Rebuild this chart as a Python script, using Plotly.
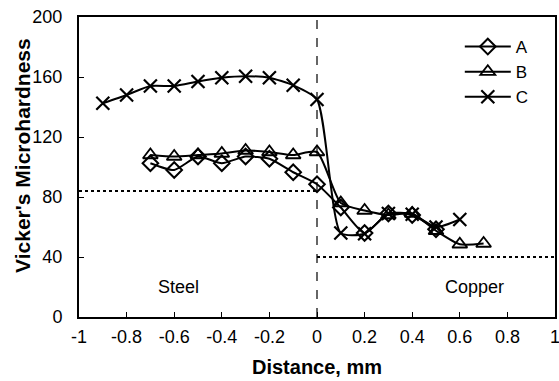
import plotly.graph_objects as go

x_a = [-0.7, -0.6, -0.5, -0.4, -0.3, -0.2, -0.1, 0.0, 0.1, 0.2, 0.3, 0.4, 0.5]
y_a = [102.5, 98, 107, 102.5, 107, 105.5, 96.5, 88.5, 73, 56, 69, 68, 58.5]

x_b = [-0.7, -0.6, -0.5, -0.4, -0.3, -0.2, -0.1, 0.0, 0.1, 0.2, 0.3, 0.4, 0.5, 0.6, 0.7]
y_b = [108, 107, 108, 109, 111, 110, 108, 110, 76, 71, 68, 69, 57.5, 48.5, 49]

x_c = [-0.9, -0.8, -0.7, -0.6, -0.5, -0.4, -0.3, -0.2, -0.1, 0.0, 0.1, 0.2, 0.3, 0.4, 0.5, 0.6]
y_c = [142.5, 148, 154, 154, 157, 159.5, 160.5, 159.5, 154.5, 145, 56, 55.5, 69, 68.5, 60, 65]

steel_level = 84
copper_level = 40
x_ticks = [-1, -0.8, -0.6, -0.4, -0.2, 0, 0.2, 0.4, 0.6, 0.8, 1]
x_tick_text = ["-1", "-0.8", "-0.6", "-0.4", "-0.2", "0", "0.2", "0.4", "0.6", "0.8", "1"]
y_ticks = [0, 40, 80, 120, 160, 200]

FONT = "Liberation Sans, Arial, sans-serif"

fig = go.Figure()

# reference lines
fig.add_trace(go.Scatter(x=[-1, 0], y=[steel_level, steel_level], mode="lines",
                         line=dict(color="black", width=2, dash="dot"), showlegend=False, hoverinfo="skip"))
fig.add_trace(go.Scatter(x=[0, 1], y=[copper_level, copper_level], mode="lines",
                         line=dict(color="black", width=2, dash="dot"), showlegend=False, hoverinfo="skip"))
fig.add_trace(go.Scatter(x=[0, 0], y=[0, 200], mode="lines",
                         line=dict(color="black", width=1.2, dash="dash"), showlegend=False, hoverinfo="skip"))

fig.add_trace(go.Scatter(x=x_a, y=y_a, name="A", mode="lines+markers",
                         line=dict(color="black", width=2, shape="spline", smoothing=0.6),
                         marker=dict(symbol="diamond-open", size=12, color="black", line=dict(width=2))))
fig.add_trace(go.Scatter(x=x_b, y=y_b, name="B", mode="lines+markers",
                         line=dict(color="black", width=2, shape="spline", smoothing=0.6),
                         marker=dict(symbol="triangle-up-open", size=13, color="black", line=dict(width=1.8))))
fig.add_trace(go.Scatter(x=x_c, y=y_c, name="C", mode="lines+markers",
                         line=dict(color="black", width=2, shape="spline", smoothing=0.6),
                         marker=dict(symbol="x-thin-open", size=13, color="black", line=dict(width=2.2))))

fig.add_annotation(x=-0.58, y=20, text="Steel", showarrow=False,
                   font=dict(family=FONT, size=18, color="black"))
fig.add_annotation(x=0.66, y=20, text="Copper", showarrow=False,
                   font=dict(family=FONT, size=18, color="black"))

# axis titles
fig.add_annotation(xref="paper", yref="paper", x=0.5, y=-0.167, yanchor="middle", xanchor="center",
                   text="<b>Distance, mm</b>", showarrow=False,
                   font=dict(family=FONT, size=20, color="black"))
fig.add_annotation(xref="paper", yref="paper", x=-0.12, y=0.54, xanchor="center", yanchor="middle",
                   text="<b>Vicker's Microhardness</b>", showarrow=False, textangle=-90,
                   font=dict(family=FONT, size=21, color="black"))

fig.update_layout(
    width=559, height=381,
    margin=dict(l=79, r=4, t=17, b=64),
    paper_bgcolor="white", plot_bgcolor="white",
    font=dict(family=FONT, size=18, color="black"),
    legend=dict(x=0.80, y=0.96, xanchor="left", yanchor="top", bgcolor="rgba(0,0,0,0)",
                font=dict(family=FONT, size=17), itemwidth=46, tracegroupgap=0),
    xaxis=dict(range=[-1, 1], tickvals=x_ticks, ticktext=x_tick_text, ticks="inside", ticklen=5,
               tickcolor="black", showline=True, linecolor="black", linewidth=2, mirror=True,
               showgrid=False, zeroline=False, automargin=False, ticklabelstandoff=2,
               ticklabeloverflow="allow"),
    yaxis=dict(range=[0, 200], tickvals=y_ticks, ticks="inside", ticklen=5,
               tickcolor="black", showline=True, linecolor="black", linewidth=2, mirror=True,
               showgrid=False, zeroline=False, automargin=False, ticklabelstandoff=11,
               ticklabeloverflow="allow"),
)

fig.write_html("out.html", config={"displayModeBar": False},
               post_script="document.body.style.margin='0';document.body.style.overflow='hidden';")
